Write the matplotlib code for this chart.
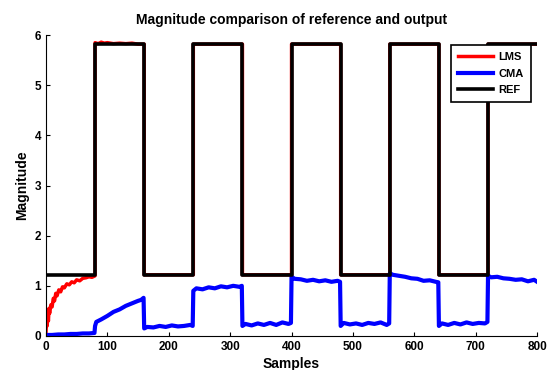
import matplotlib
matplotlib.use('Agg')
import matplotlib.pyplot as plt
import numpy as np

# reference square wave: edges and levels between them
REF_EDGES = [0, 80, 160, 240, 320, 400, 480, 560, 640, 720, 800]
REF_LEVELS = [1.22, 5.82, 1.22, 5.82, 1.22, 5.82, 1.22, 5.82, 1.22, 5.82]

# LMS: initial convergence, then a noisy first high segment, then tracks REF
LMS_X = [0, 1, 2, 3, 4, 5, 6, 8, 10, 12, 14, 16, 18, 21, 24, 27, 30, 34, 38, 42, 46, 50,
         55, 60, 65, 70, 75, 80,
         80, 85, 90, 95, 100, 110, 120, 130, 140, 150, 160]
LMS_Y = [0.05, 0.35, 0.2, 0.45, 0.3, 0.55, 0.45, 0.62, 0.58, 0.75, 0.7, 0.85, 0.8, 0.92, 0.88,
         0.98, 0.96, 1.04, 1.02, 1.08, 1.06, 1.12, 1.1, 1.15, 1.16, 1.18, 1.17, 1.2,
         5.85, 5.83, 5.86, 5.84, 5.85, 5.83, 5.84, 5.83, 5.84, 5.82, 5.82]

CMA_X = [0, 10, 20, 30, 40, 50, 60, 70, 79,
         80, 82, 90, 100, 110, 120, 130, 140, 150, 155, 159,
         160, 165, 175, 185, 195, 205, 215, 225, 235, 239,
         240, 245, 255, 265, 275, 285, 295, 305, 315, 319,
         320, 325, 335, 345, 355, 365, 375, 385, 395, 399,
         400, 405, 415, 425, 435, 445, 455, 465, 475, 479,
         480, 485, 495, 505, 515, 525, 535, 545, 555, 559,
         560, 565, 575, 585, 595, 605, 615, 625, 635, 639,
         640, 645, 655, 665, 675, 685, 695, 705, 715, 719,
         720, 725, 735, 745, 755, 765, 775, 785, 795, 800]
CMA_Y = [0.02, 0.02, 0.03, 0.03, 0.04, 0.04, 0.05, 0.05, 0.06,
         0.2, 0.28, 0.33, 0.4, 0.48, 0.53, 0.6, 0.65, 0.7, 0.72, 0.76,
         0.15, 0.18, 0.17, 0.2, 0.18, 0.21, 0.19, 0.2, 0.22, 0.2,
         0.9, 0.95, 0.93, 0.97, 0.95, 0.99, 0.97, 1.0, 0.98, 1.0,
         0.2, 0.24, 0.21, 0.25, 0.22, 0.26, 0.22, 0.27, 0.24, 0.26,
         1.18, 1.14, 1.13, 1.1, 1.12, 1.09, 1.11, 1.08, 1.1, 1.08,
         0.2, 0.26, 0.23, 0.25, 0.22, 0.26, 0.24, 0.27, 0.22, 0.25,
         1.25, 1.22, 1.2, 1.18, 1.15, 1.14, 1.1, 1.11, 1.08, 1.07,
         0.2, 0.25, 0.22, 0.26, 0.23, 0.27, 0.24, 0.26, 0.25, 0.28,
         1.2, 1.17, 1.18, 1.15, 1.14, 1.12, 1.13, 1.09, 1.12, 1.08]

plt.rcParams['font.family'] = 'Liberation Sans'
plt.rcParams['font.weight'] = 'bold'

fig = plt.figure(figsize=(5.47, 3.70), dpi=100, facecolor='white')
ax = fig.add_axes([0.084, 0.092, 0.898, 0.813])

ref_x = []
ref_y = []
for i, lvl in enumerate(REF_LEVELS):
    ref_x += [REF_EDGES[i], REF_EDGES[i + 1]]
    ref_y += [lvl, lvl]
# after its first period LMS follows the reference (from the drop at 160)
lms_x = LMS_X + ref_x[4:]
lms_y = LMS_Y + ref_y[4:]

ax.plot(lms_x, lms_y, color='red', lw=2.5, label='LMS')
ax.plot(CMA_X, CMA_Y, color='blue', lw=3, label='CMA')
ax.plot(ref_x, ref_y, color='black', lw=2.6, label='REF')

ax.set_xlim(0, 800)
ax.set_ylim(0, 6)
ax.set_xticks(range(0, 801, 100))
ax.set_yticks(range(0, 7))
ax.spines['top'].set_visible(False)
ax.spines['right'].set_visible(False)
ax.tick_params(direction='in', length=3, labelsize=8.5)
for lab in ax.get_xticklabels() + ax.get_yticklabels():
    lab.set_fontweight('bold')

ax.set_title('Magnitude comparison of reference and output', fontsize=10,
             fontweight='bold', pad=8)
ax.set_xlabel('Samples', fontsize=10, fontweight='bold', labelpad=3)
ax.set_ylabel('Magnitude', fontsize=10, fontweight='bold', labelpad=4)

leg = ax.legend(loc='upper right', bbox_to_anchor=(0.998, 0.985), fontsize=8,
                fancybox=False, framealpha=1, edgecolor='black',
                handlelength=3.2, borderpad=0.6, labelspacing=0.6,
                handletextpad=0.5)
leg.get_frame().set_linewidth(1.2)
for t in leg.get_texts():
    t.set_fontweight('bold')

fig.savefig('out.png', dpi=100, facecolor='white')
